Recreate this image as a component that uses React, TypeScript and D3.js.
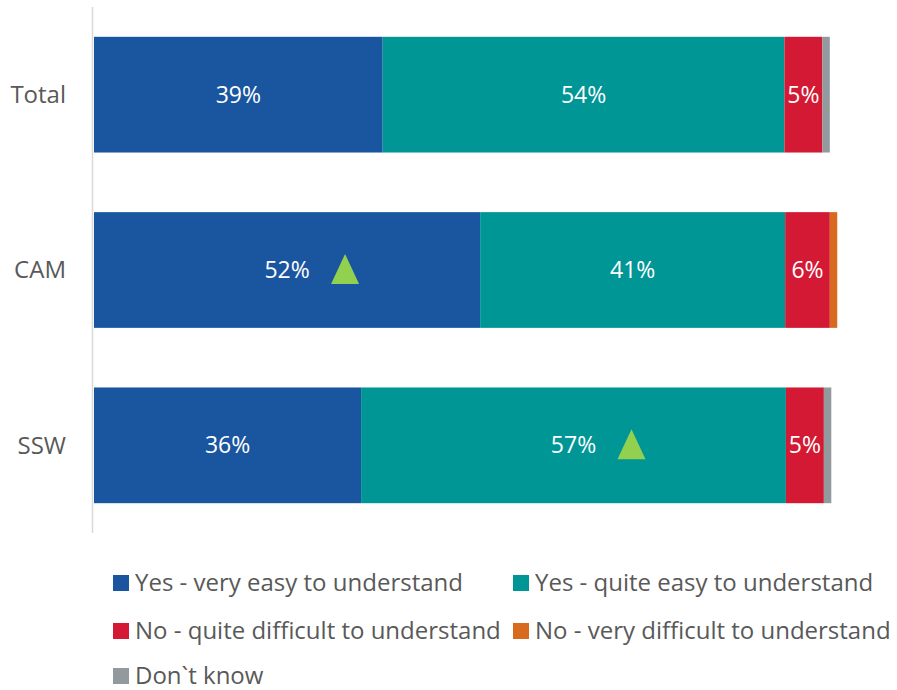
import React from "react";
import * as d3 from "d3";

const categories = ["Total", "CAM", "SSW"];
const seriesNames = [
  "Yes - very easy to understand",
  "Yes - quite easy to understand",
  "No - quite difficult to understand",
  "No - very difficult to understand",
  "Don`t know",
];
const seriesColors = ["#1a56a0", "#009696", "#d31933", "#d86a20", "#939a9e"];
const totalValues = [38.8, 54.0, 5.1, 0, 1.0];
const camValues = [51.9, 41.0, 6.0, 1.0, 0];
const sswValues = [35.9, 57.1, 5.1, 0, 1.0];
const totalLabels = ["39%", "54%", "5%", "", ""];
const camLabels = ["52%", "41%", "6%", "", ""];
const sswLabels = ["36%", "57%", "5%", "", ""];
// significance marker: index of series with an up-triangle, -1 = none
const significant = [-1, 0, 1];

const W = 897;
const H = 690;
const FONT = "'Open Sans', sans-serif";

export default function App() {
  const values = [totalValues, camValues, sswValues];
  const labels = [totalLabels, camLabels, sswLabels];
  const x = d3.scaleLinear().domain([0, 100]).range([94, 838]);
  const y = d3.scaleBand().domain(categories).range([7, 533]).paddingInner(0.34).paddingOuter(0.17);

  const stackData = categories.map((c, i) => {
    const o: any = { cat: c };
    seriesNames.forEach((s, j) => (o[s] = values[i][j]));
    return o;
  });
  const stacked = d3.stack<any>().keys(seriesNames)(stackData);

  const legendItems = [
    { i: 0, x: 113, y: 583 },
    { i: 1, x: 513, y: 583 },
    { i: 2, x: 113, y: 631 },
    { i: 3, x: 513, y: 631 },
    { i: 4, x: 113, y: 676 },
  ];

  return (
    <svg width={W} height={H} style={{ position: "absolute", left: 0, top: 0 }} fontFamily={FONT}>
      <rect width={W} height={H} fill="#fff" />
      {stacked.map((layer, j) =>
        layer.map((d, i) => {
          const x0 = x(d[0]);
          const x1 = x(d[1]);
          const yy = y(categories[i])!;
          const bw = y.bandwidth();
          const cx = (x0 + x1) / 2;
          return (
            <g key={`${j}-${i}`}>
              {x1 - x0 > 0 && (
                <rect x={x0} y={yy} width={x1 - x0} height={bw} fill={seriesColors[j]} />
              )}
              {labels[i][j] && (
                <text x={cx} y={yy + bw / 2} dy="0.35em" textAnchor="middle" fill="#fff" fontSize={23}>
                  {labels[i][j]}
                </text>
              )}
              {significant[i] === j && (
                <path
                  d={`M${cx + 44},${yy + bw / 2 + 14} L${cx + 72},${yy + bw / 2 + 14} L${cx + 58},${yy + bw / 2 - 16} Z`}
                  fill="#92d050"
                />
              )}
            </g>
          );
        })
      )}
      <line x1={92.5} x2={92.5} y1={7} y2={533} stroke="#d9d9d9" strokeWidth={1.5} />
      {categories.map((c) => (
        <text key={c} x={66} y={y(c)! + y.bandwidth() / 2} dy="0.35em" textAnchor="end" fill="#595959" fontSize={24}>
          {c}
        </text>
      ))}
      {legendItems.map((l) => (
        <g key={l.i}>
          <rect x={l.x} y={l.y - 8} width={16} height={16} fill={seriesColors[l.i]} />
          <text x={l.x + 22} y={l.y} dy="0.35em" fill="#595959" fontSize={24}>
            {seriesNames[l.i]}
          </text>
        </g>
      ))}
    </svg>
  );
}
